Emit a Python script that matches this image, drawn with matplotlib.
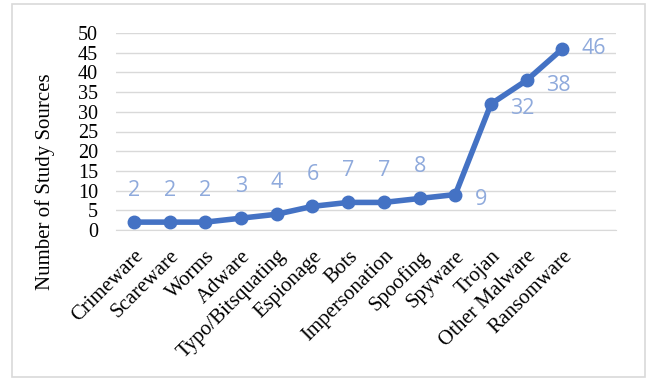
import matplotlib.pyplot as plt
from matplotlib.patches import Rectangle

categories = ['Crimeware', 'Scareware', 'Worms', 'Adware', 'Typo/Bitsquating',
              'Espionage', 'Bots', 'Impersonation', 'Spoofing', 'Spyware',
              'Trojan', 'Other Malware', 'Ransomware']
counts = [2, 2, 2, 3, 4, 6, 7, 7, 8, 9, 32, 38, 46]
# label placement: 'above' or 'right'
label_pos = ['above'] * 9 + ['right'] * 4

plt.rcParams['font.family'] = ['Liberation Serif']

fig = plt.figure(figsize=(6.48, 3.80), dpi=100)
ax = fig.add_axes([116 / 648, 1 - 230 / 380, 500 / 648, 197 / 380])

# outer chart border
fig.patches.append(Rectangle((12 / 648, 3 / 380), 633 / 648, 373 / 380,
                             transform=fig.transFigure, fill=False,
                             edgecolor='#D9D9D9', linewidth=1.2))

x = list(range(len(categories)))
ax.plot(x, counts, color='#4472C4', linewidth=4, marker='o', markersize=9,
        solid_capstyle='round')

lbl_style = dict(textcoords='offset points', color='#8FAADC', fontsize=15.5,
                 family='Open Sans', va='center')
for xi, yi, pos in zip(x, counts, label_pos):
    if pos == 'above':
        ax.annotate(str(yi), (xi, yi), xytext=(0, 23), ha='center', **lbl_style)
    else:
        dy = 0 if yi == 46 else -3.5
        ax.annotate(str(yi), (xi, yi), xytext=(14, dy), ha='left', **lbl_style)

ax.set_xlim(-0.5, len(categories) + 0.5)
ax.set_ylim(0, 50)
ax.set_yticks(range(0, 51, 5))
ax.set_xticks(x)
ax.set_xticklabels(categories, rotation=45, ha='right', va='top',
                   rotation_mode='anchor', fontsize=15)
ax.tick_params(axis='both', length=0)
ax.tick_params(axis='y', pad=13, labelsize=14.5)
ax.tick_params(axis='x', pad=12)

ax.grid(axis='y', color='#D9D9D9', linewidth=1)
ax.set_axisbelow(True)
for s in ['top', 'right', 'left']:
    ax.spines[s].set_visible(False)
ax.spines['bottom'].set_color('#D9D9D9')

ax.set_ylabel('Number of Study Sources', fontsize=15, va='center')
ax.yaxis.set_label_coords(-0.142, 0.244)

plt.savefig('out.png', dpi=100)
